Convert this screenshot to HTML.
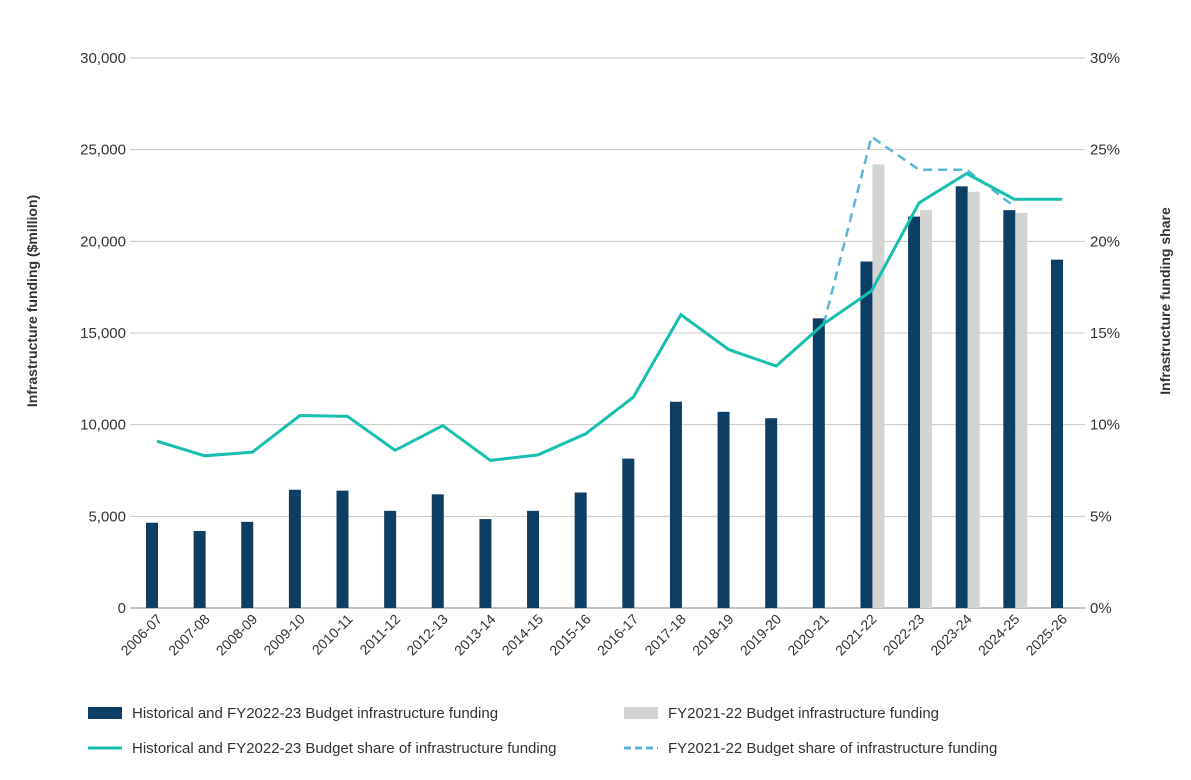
<!DOCTYPE html>
<html><head><meta charset="utf-8"><style>
body{margin:0;background:#fff;font-family:"Liberation Sans",sans-serif;}
svg text{font-family:"Liberation Sans",sans-serif;fill:#333;}
</style></head><body>
<svg id="c" width="1191" height="775"></svg>
<script>
const categories=["2006-07","2007-08","2008-09","2009-10","2010-11","2011-12","2012-13","2013-14","2014-15","2015-16","2016-17","2017-18","2018-19","2019-20","2020-21","2021-22","2022-23","2023-24","2024-25","2025-26"];
const histFunding=[4650,4200,4700,6450,6400,5300,6200,4850,5300,6300,8150,11250,10700,10350,15800,18900,21350,23000,21700,19000];
const prevFunding=[null,null,null,null,null,null,null,null,null,null,null,null,null,null,null,24200,21700,22700,21550,null];
const histShare=[9.1,8.3,8.5,10.5,10.45,8.6,9.95,8.05,8.35,9.5,11.5,16.0,14.1,13.2,15.5,17.3,22.1,23.7,22.3,22.3];
const prevShare=[null,null,null,null,null,null,null,null,null,null,null,null,null,null,15.5,25.7,23.9,23.9,21.9,null];
const leftTicks=[0,5000,10000,15000,20000,25000,30000];
const rightTicks=[0,5,10,15,20,25,30];
const svg=document.getElementById('c');const NS='http://www.w3.org/2000/svg';
function mk(t,a,p){const e=document.createElementNS(NS,t);for(const k in a)e.setAttribute(k,a[k]);(p||svg).appendChild(e);return e;}
const y0=608,y1=58,xL=130,xR=1085;
const yL=v=>y0-(v/30000)*(y0-y1);
const yR=v=>y0-(v/30)*(y0-y1);
const xC=i=>157+i*47.63;
leftTicks.forEach((t,i)=>{
 const g=mk('line',{x1:xL,x2:xR,y1:yL(t),y2:yL(t),stroke:t===0?'#888':'#c8c8c8','stroke-width':1});
 
 const l=mk('text',{x:126,y:yL(t)+5,'text-anchor':'end','font-size':15});l.textContent=t.toLocaleString('en-US');
 
});
rightTicks.forEach(t=>{
 const l=mk('text',{x:1090,y:yR(t)+5,'font-size':15});l.textContent=t+'%';
 
});
categories.forEach((c,i)=>{
 const v=histFunding[i];
 const b=mk('rect',{x:xC(i)-11,y:yL(v),width:12,height:y0-yL(v),fill:'#0d3f66'});
 
 if(prevFunding[i]!=null){const p=prevFunding[i];
  const g=mk('rect',{x:xC(i)+1,y:yL(p),width:12,height:y0-yL(p),fill:'#d3d3d1'});
  }
 const t=mk('text',{x:0,y:0,'font-size':14,'text-anchor':'end',transform:`translate(${xC(i)+6},${620}) rotate(-45)`});t.textContent=c;
 
});
function pts(arr){return arr.map((v,i)=>v==null?null:xC(i).toFixed(1)+','+yR(v).toFixed(1)).filter(Boolean).join(' ');}
const pd=mk('polyline',{points:pts(prevShare),fill:'none',stroke:'#5bb5d9','stroke-width':2.5,'stroke-dasharray':'9,6'});

const ph=mk('polyline',{points:pts(histShare),fill:'none',stroke:'#17bfae','stroke-width':3});

const ly=mk('text',{x:0,y:0,'font-size':14,'font-weight':'bold','text-anchor':'middle',transform:'translate(37,301) rotate(-90)'});ly.textContent='Infrastructure funding ($million)';

const ry=mk('text',{x:0,y:0,'font-size':14,'font-weight':'bold','text-anchor':'middle',transform:'translate(1170,301) rotate(-90)'});ry.textContent='Infrastructure funding share';

const leg=[[88,713,'rect','#0d3f66','Historical and FY2022-23 Budget infrastructure funding'],[624,713,'rect','#d3d3d1','FY2021-22 Budget infrastructure funding'],[88,748,'line','#17bfae','Historical and FY2022-23 Budget share of infrastructure funding'],[624,748,'dash','#5bb5d9','FY2021-22 Budget share of infrastructure funding']];
leg.forEach(l=>{
 let m;
 if(l[2]==='rect')m=mk('rect',{x:l[0],y:l[1]-6,width:34,height:12,fill:l[3]});
 else m=mk('line',{x1:l[0],x2:l[0]+34,y1:l[1],y2:l[1],stroke:l[3],'stroke-width':3,'stroke-dasharray':l[2]==='dash'?'7,4':'none'});
 
 const t=mk('text',{x:l[0]+44,y:l[1]+5,'font-size':15});t.textContent=l[4];
 
});
</script>
</body></html>
